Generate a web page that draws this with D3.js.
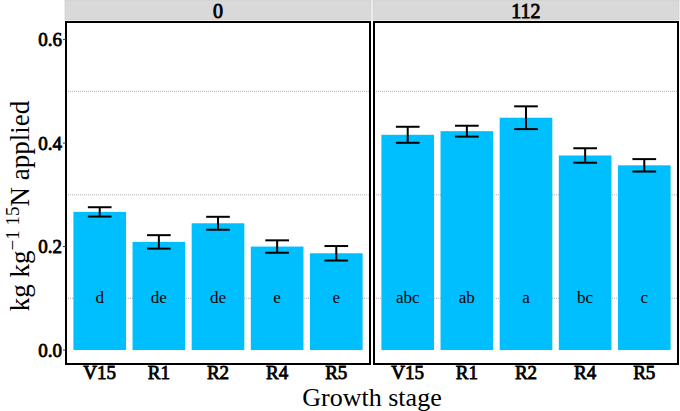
<!DOCTYPE html>
<html>
<head>
<meta charset="utf-8">
<script src="https://cdn.jsdelivr.net/npm/d3@7"></script>
<style>
  body { margin: 0; background: white; }
  text { font-family: "Liberation Serif", "Times New Roman", serif; }
  /* bold face of the serif is drawn with a thin stroke */
  text.bold { stroke: black; stroke-width: 0.8px; paint-order: stroke; }
</style>
</head>
<body>
<script>
// data
var stages = ["V15", "R1", "R2", "R4", "R5"];
var panels = ["0", "112"];
var means_0   = [0.267, 0.209, 0.245, 0.200, 0.187];
var se_0      = [0.009, 0.013, 0.0125, 0.012, 0.014];
var letters_0 = ["d", "de", "de", "e", "e"];
var means_112   = [0.416, 0.423, 0.449, 0.376, 0.357];
var se_112      = [0.0155, 0.0105, 0.022, 0.014, 0.012];
var letters_112 = ["abc", "ab", "a", "bc", "c"];
var y_ticks = [0.0, 0.2, 0.4, 0.6];
var y_minor = [0.1, 0.3, 0.5];

var W = 680, H = 411;
var top_ = 22, bottom_ = 364;   // panel box
var strip_h = 21;
var panel_x = [[66, 370], [374, 678]];
var bar_color = "#00BFFF";

var series = [
    {means: means_0, se: se_0, letters: letters_0},
    {means: means_112, se: se_112, letters: letters_112}
];

var svg = d3.select('body').append('svg')
    .attr('width', W)
    .attr('height', H)
    ;

var y = d3.scaleLinear()
    .domain([-0.027, 0.634])
    .range([bottom_, top_]);

panels.forEach(function(p, k){
    var x0 = panel_x[k][0], x1 = panel_x[k][1];
    var x = d3.scaleBand()
        .domain(stages)
        .range([x0, x1])
        .paddingInner(0.11)
        .paddingOuter(0.125);
    var s = series[k];
    var data = stages.map(function(d, i){
        return {stage: d, mean: s.means[i], se: s.se[i], letter: s.letters[i]};
    });

    var g = svg.append('g').attr('class', 'panel-' + p);

    // strip
    g.append('rect')
        .attr('x', x0 - 1)
        .attr('y', 0)
        .attr('width', x1 - x0 + 2)
        .attr('height', strip_h - 1)
        .attr('fill', '#D9D9D9')
        .attr('stroke', '#CFCFCF')
        .attr('stroke-width', 0.8)
        ;
    g.append('text')
        .attr('class', 'bold')
        .attr('x', (x0 + x1) / 2)
        .attr('y', strip_h / 2)
        .attr('dy', '0.35em')
        .attr('text-anchor', 'middle')
        .attr('font-size', '20px')
        .text(p)
        ;

    // minor grid, dotted
    g.selectAll('.grid')
        .data(y_minor)
        .enter()
        .append('line')
        .attr('x1', x0)
        .attr('x2', x1)
        .attr('y1', function(d){return y(d);})
        .attr('y2', function(d){return y(d);})
        .attr('stroke', '#9a9a9a')
        .attr('stroke-width', 0.8)
        .attr('stroke-dasharray', '1,1')
        ;

    // bars
    g.selectAll('.bar')
        .data(data)
        .enter()
        .append('rect')
        .attr('x', function(d){return x(d.stage);})
        .attr('width', x.bandwidth())
        .attr('y', function(d){return y(d.mean);})
        .attr('height', function(d){return y(0) - y(d.mean);})
        .attr('fill', bar_color)
        ;

    // error bars
    var cap = x.bandwidth() * 0.45;
    var eb = g.selectAll('.err')
        .data(data)
        .enter()
        .append('g')
        .attr('stroke', 'black')
        .attr('stroke-width', 2)
        ;
    eb.append('line')
        .attr('x1', function(d){return x(d.stage) + x.bandwidth()/2;})
        .attr('x2', function(d){return x(d.stage) + x.bandwidth()/2;})
        .attr('y1', function(d){return y(d.mean + d.se);})
        .attr('y2', function(d){return y(d.mean - d.se);})
        ;
    [1, -1].forEach(function(sg){
        eb.append('line')
            .attr('x1', function(d){return x(d.stage) + x.bandwidth()/2 - cap/2;})
            .attr('x2', function(d){return x(d.stage) + x.bandwidth()/2 + cap/2;})
            .attr('y1', function(d){return y(d.mean + sg*d.se);})
            .attr('y2', function(d){return y(d.mean + sg*d.se);})
            ;
    });

    // significance letters
    g.selectAll('.letter')
        .data(data)
        .enter()
        .append('text')
        .attr('x', function(d){return x(d.stage) + x.bandwidth()/2;})
        .attr('y', y(0.1))
        .attr('dy', '0.3em')
        .attr('text-anchor', 'middle')
        .attr('font-size', '17px')
        .text(function(d){return d.letter;})
        ;

    // x tick labels
    g.selectAll('.xlab')
        .data(stages)
        .enter()
        .append('text')
        .attr('class', 'bold')
        .attr('x', function(d){return x(d) + x.bandwidth()/2;})
        .attr('y', 379)
        .attr('text-anchor', 'middle')
        .attr('font-size', '19px')
        .text(function(d){return d;})
        ;

    // panel border
    g.append('rect')
        .attr('x', x0)
        .attr('y', top_)
        .attr('width', x1 - x0)
        .attr('height', bottom_ - top_)
        .attr('fill', 'none')
        .attr('stroke', 'black')
        .attr('stroke-width', 2)
        ;
});

// y axis on the first panel
var yax = svg.append('g');
yax.selectAll('line')
    .data(y_ticks)
    .enter()
    .append('line')
    .attr('x1', panel_x[0][0] - 3)
    .attr('x2', panel_x[0][0])
    .attr('y1', function(d){return y(d);})
    .attr('y2', function(d){return y(d);})
    .attr('stroke', '#333')
    .attr('stroke-width', 1)
    ;
yax.selectAll('text')
    .data(y_ticks)
    .enter()
    .append('text')
    .attr('class', 'bold')
    .attr('x', panel_x[0][0] - 4)
    .attr('y', function(d){return y(d);})
    .attr('dy', '0.35em')
    .attr('text-anchor', 'end')
    .attr('font-size', '19px')
    .text(function(d){return d3.format('.1f')(d);})
    ;

// axis titles
svg.append('text')
    .attr('x', 372)
    .attr('y', 406)
    .attr('text-anchor', 'middle')
    .attr('font-size', '26px')
    .text('Growth stage')
    ;

var ytitle = svg.append('text')
    .attr('transform', 'translate(29,206) rotate(-90)')
    .attr('text-anchor', 'middle')
    .attr('font-size', '27px')
    ;
ytitle.append('tspan').text('kg kg');
ytitle.append('tspan').attr('font-size', '19px').attr('dy', '-10').text('\u22121');
ytitle.append('tspan').attr('font-size', '19px').text(' 15');
ytitle.append('tspan').attr('dy', '10').text('N applied');
</script>
</body>
</html>
